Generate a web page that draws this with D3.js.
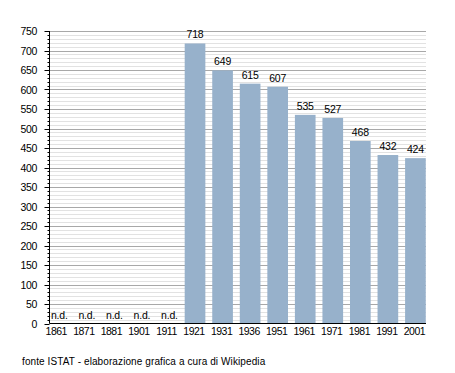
<!DOCTYPE html>
<html>
<head>
<meta charset="utf-8">
<script src="https://cdn.jsdelivr.net/npm/d3@7/dist/d3.min.js"></script>
<style>
  body { margin: 0; background: #fff; }
  text { font-family: "Liberation Sans", Arial, sans-serif; fill: #000; }
</style>
</head>
<body>
<svg id="chart" width="455" height="373"></svg>
<script>
// dati popolazione (null = n.d.)
const years = ["1861","1871","1881","1901","1911","1921","1931","1936","1951","1961","1971","1981","1991","2001"]
const population = [null, null, null, null, null, 718, 649, 615, 607, 535, 527, 468, 432, 424]
const yTicks = [0,50,100,150,200,250,300,350,400,450,500,550,600,650,700,750]
const footer = "fonte ISTAT - elaborazione grafica a cura di Wikipedia"

const svg = d3.select("#chart")
const axisX = 49.5, plotRight = 426

const x = d3.scaleBand().domain(years).range([43.5, 429.2]).paddingInner(0.25).paddingOuter(0.125)
const y = d3.scaleLinear().domain([0, 750]).range([323.5, 31])

// griglia minore ogni 10
const minor = d3.range(10, 751, 10).filter(v => v % 50 !== 0)
svg.append("g").selectAll("line").data(minor).enter().append("line")
  .attr("x1", axisX).attr("x2", plotRight)
  .attr("y1", d => Math.round(y(d)) + 0.5).attr("y2", d => Math.round(y(d)) + 0.5)
  .style("stroke", "#e2e2e2").style("stroke-width", 1)

// griglia principale ogni 50
svg.append("g").selectAll("line").data(yTicks.slice(1)).enter().append("line")
  .attr("x1", axisX).attr("x2", plotRight)
  .attr("y1", d => Math.round(y(d)) + 0.5).attr("y2", d => Math.round(y(d)) + 0.5)
  .style("stroke", "#a8a8a8").style("stroke-width", 1)

// barre
svg.append("g").selectAll("rect").data(years.filter((d, i) => population[i] != null)).enter().append("rect")
  .attr("x", d => x(d))
  .attr("width", x.bandwidth())
  .attr("y", d => y(population[years.indexOf(d)]))
  .attr("height", d => y(0) - y(population[years.indexOf(d)]))
  .style("fill", "#97b1cb")

// etichette valori
svg.append("g").selectAll("text").data(years).enter().append("text")
  .attr("x", (d, i) => x(d) + x.bandwidth() / 2 + (population[i] == null ? 2 : 0))
  .attr("y", (d, i) => (population[i] == null ? y(0) : y(population[i])) - 5)
  .attr("text-anchor", "middle")
  .style("font-size", "10.5px")
  .style("letter-spacing", "-0.2px")
  .text((d, i) => population[i] == null ? "n.d." : population[i])

// asse y
const yAxis = svg.append("g")
yAxis.selectAll("line.minor").data(d3.range(10, 751, 10)).enter().append("line")
  .attr("x1", axisX - 2).attr("x2", axisX)
  .attr("y1", d => Math.round(y(d)) + 0.5).attr("y2", d => Math.round(y(d)) + 0.5)
  .style("stroke", "#000")
yAxis.selectAll("line.major").data(yTicks).enter().append("line")
  .attr("x1", axisX - 5).attr("x2", axisX)
  .attr("y1", d => Math.round(y(d)) + 0.5).attr("y2", d => Math.round(y(d)) + 0.5)
  .style("stroke", "#000")
yAxis.append("line")
  .attr("x1", axisX).attr("x2", axisX).attr("y1", y(750)).attr("y2", y(0))
  .style("stroke", "#000")
yAxis.selectAll("text").data(yTicks).enter().append("text")
  .attr("x", 37).attr("y", d => y(d) + 4)
  .attr("text-anchor", "end")
  .style("font-size", "10.5px")
  .style("letter-spacing", "-0.3px")
  .text(d => d)

// asse x
svg.append("line")
  .attr("x1", axisX).attr("x2", plotRight)
  .attr("y1", 323.5).attr("y2", 323.5)
  .style("stroke", "#000")
svg.append("g").selectAll("text").data(years).enter().append("text")
  .attr("x", d => x(d) + x.bandwidth() / 2 - 1)
  .attr("y", 335)
  .attr("text-anchor", "middle")
  .style("font-size", "10.5px")
  .style("letter-spacing", "-0.5px")
  .text(d => d)

svg.append("text")
  .attr("x", 22).attr("y", 365)
  .style("font-size", "10px")
  .style("letter-spacing", "0.1px")
  .text(footer)
</script>
</body>
</html>
